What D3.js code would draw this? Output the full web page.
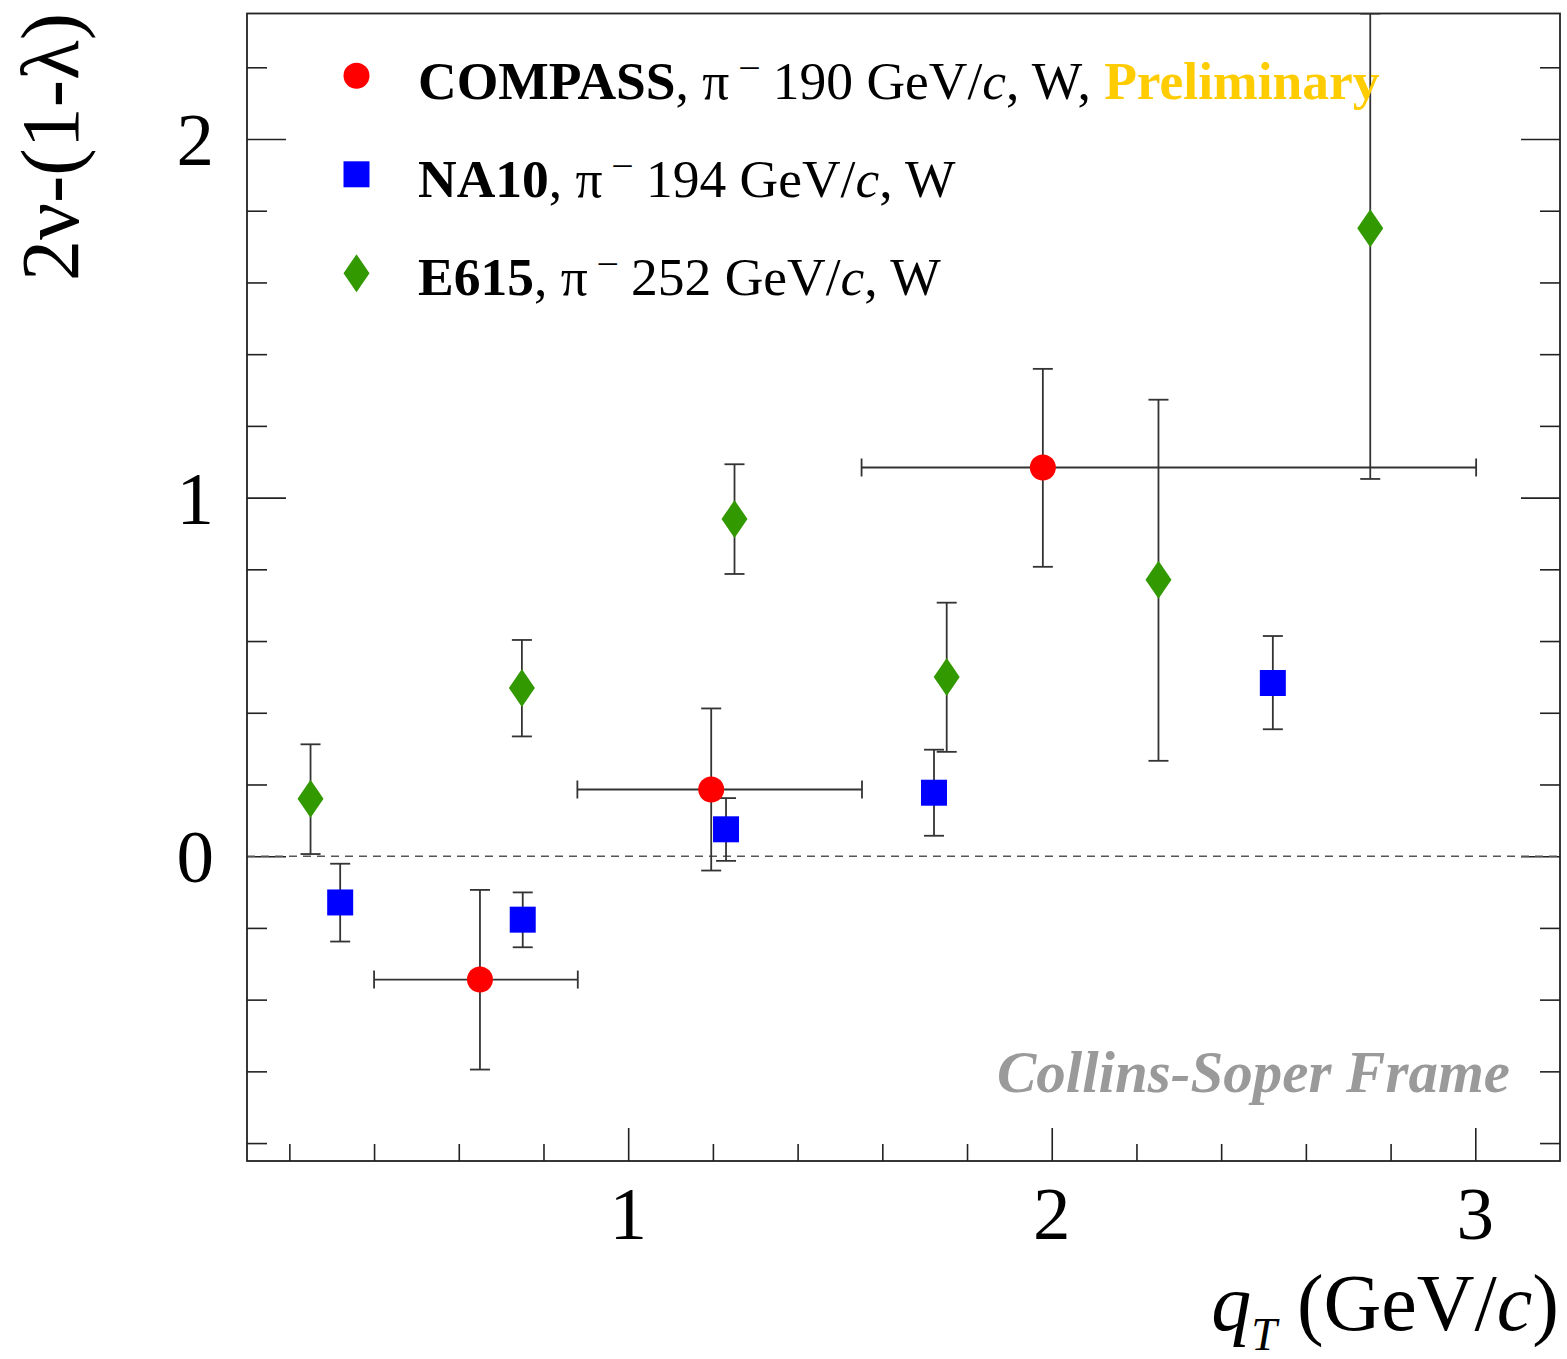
<!DOCTYPE html>
<html>
<head>
<meta charset="utf-8">
<script src="https://cdn.jsdelivr.net/npm/d3@7"></script>
<style>
  html, body { margin: 0; padding: 0; background: #fff; }
  svg { display: block; }
  text { font-family: "Liberation Serif", "Times New Roman", serif; }
</style>
</head>
<body>
<svg id="chart" width="1567" height="1359"></svg>
<script>
// ---------- data ----------
const seriesNames = ["COMPASS", "NA10", "E615"];
const seriesEnergies = ["190", "194", "252"];

// COMPASS (with x bin ranges)
const compassX    = [0.650, 1.196, 1.979];
const compassXlo  = [0.400, 0.880, 1.551];
const compassXhi  = [0.881, 1.552, 3.002];
const compassY    = [-0.344, 0.186, 1.084];
const compassYlo  = [-0.595, -0.040, 0.807];
const compassYhi  = [-0.094, 0.412, 1.359];

// NA10
const na10X   = [0.320, 0.751, 1.231, 1.722, 2.522];
const na10Y   = [-0.129, -0.177, 0.075, 0.177, 0.483];
const na10Ylo = [-0.238, -0.254, -0.013, 0.057, 0.354];
const na10Yhi = [-0.021, -0.101, 0.162, 0.297, 0.614];

// E615
const e615X   = [0.250, 0.749, 1.251, 1.752, 2.252, 2.752];
const e615Y   = [0.160, 0.469, 0.940, 0.500, 0.771, 1.751];
const e615Ylo = [0.006, 0.334, 0.787, 0.291, 0.266, 1.052];
const e615Yhi = [0.312, 0.603, 1.093, 0.707, 1.273, 2.450];

const xMajorTicks = [1, 2, 3];
const xTickLabels = ["1", "2", "3"];
const yMajorTicks = [0, 1, 2];
const yTickLabels = ["0", "1", "2"];
const xDomain = [0.1, 3.2];
const yDomain = [-0.85, 2.35];

// ---------- layout ----------
const L = 247, R = 1560, T = 13.5, B = 1161;
const svg = d3.select("#chart");
const x = d3.scaleLinear().domain(xDomain).range([L, R]);
const y = d3.scaleLinear().domain(yDomain).range([B, T]);

const colors = { COMPASS: "#ff0000", NA10: "#0000ff", E615: "#339900" };
const errColor = "#333333";

// clip
svg.append("defs").append("clipPath").attr("id", "plotclip")
  .append("rect").attr("x", L).attr("y", T).attr("width", R - L).attr("height", B - T);

// ---------- axes ----------
const minorX = d3.range(0.2, 3.21, 0.2).map(v => +v.toFixed(2)).filter(v => v > xDomain[0] && v < xDomain[1]);
const minorY = d3.range(-0.8, 2.31, 0.2).map(v => +v.toFixed(2));

const xAxisMinor = d3.axisTop(x).tickValues(minorX.filter(v => !xMajorTicks.includes(v))).tickSize(17).tickFormat("");
const xAxisMajor = d3.axisTop(x).tickValues(xMajorTicks).tickSize(33).tickFormat("");
const yLeftMinor = d3.axisRight(y).tickValues(minorY.filter(v => !yMajorTicks.includes(v))).tickSize(20).tickFormat("");
const yLeftMajor = d3.axisRight(y).tickValues(yMajorTicks).tickSize(39).tickFormat("");
const yRightMinor = d3.axisLeft(y).tickValues(minorY.filter(v => !yMajorTicks.includes(v))).tickSize(20).tickFormat("");
const yRightMajor = d3.axisLeft(y).tickValues(yMajorTicks).tickSize(39).tickFormat("");

function styleAxis(g) {
  g.select(".domain").remove();
  g.selectAll(".tick line").attr("stroke", "#222").attr("stroke-width", 1.6);
}
svg.append("g").attr("transform", `translate(0,${B})`).call(xAxisMinor).call(styleAxis);
svg.append("g").attr("transform", `translate(0,${B})`).call(xAxisMajor).call(styleAxis);
svg.append("g").attr("transform", `translate(${L},0)`).call(yLeftMinor).call(styleAxis);
svg.append("g").attr("transform", `translate(${L},0)`).call(yLeftMajor).call(styleAxis);
svg.append("g").attr("transform", `translate(${R},0)`).call(yRightMinor).call(styleAxis);
svg.append("g").attr("transform", `translate(${R},0)`).call(yRightMajor).call(styleAxis);

// tick labels
svg.append("g").selectAll("text").data(xMajorTicks).join("text")
  .attr("x", d => x(d)).attr("y", 1239)
  .attr("text-anchor", "middle").attr("font-size", 75).attr("fill", "#000")
  .text((d, i) => xTickLabels[i]);
svg.append("g").selectAll("text").data(yMajorTicks).join("text")
  .attr("x", 214).attr("y", d => y(d) + 26)
  .attr("text-anchor", "end").attr("font-size", 75).attr("fill", "#000")
  .text((d, i) => yTickLabels[i]);

// zero dashed line
svg.append("line")
  .attr("x1", L).attr("x2", R).attr("y1", y(0)).attr("y2", y(0))
  .attr("stroke", "#555").attr("stroke-width", 1.4).attr("stroke-dasharray", "8,6");

// frame
svg.append("rect").attr("x", L).attr("y", T).attr("width", R - L).attr("height", B - T)
  .attr("fill", "none").attr("stroke", "#222").attr("stroke-width", 1.8);

// ---------- data drawing ----------
const plot = svg.append("g").attr("clip-path", "url(#plotclip)");
const capW = 10, capH = 9;

function drawYErr(g, xs, ys, lo, hi) {
  xs.forEach((xv, i) => {
    const px = x(xv);
    const yTop = Math.max(y(hi[i]), T), yBot = Math.min(y(lo[i]), B);
    g.append("line").attr("x1", px).attr("x2", px).attr("y1", yTop).attr("y2", yBot)
      .attr("stroke", errColor).attr("stroke-width", 1.8);
    g.append("line").attr("x1", px - capW).attr("x2", px + capW).attr("y1", yTop).attr("y2", yTop)
      .attr("stroke", errColor).attr("stroke-width", 1.8);
    g.append("line").attr("x1", px - capW).attr("x2", px + capW).attr("y1", yBot).attr("y2", yBot)
      .attr("stroke", errColor).attr("stroke-width", 1.8);
  });
}
function drawXErr(g, ys, lo, hi) {
  ys.forEach((yv, i) => {
    const py = y(yv), x1 = x(lo[i]), x2 = x(hi[i]);
    g.append("line").attr("x1", x1).attr("x2", x2).attr("y1", py).attr("y2", py)
      .attr("stroke", errColor).attr("stroke-width", 1.8);
    g.append("line").attr("x1", x1).attr("x2", x1).attr("y1", py - capH).attr("y2", py + capH)
      .attr("stroke", errColor).attr("stroke-width", 1.8);
    g.append("line").attr("x1", x2).attr("x2", x2).attr("y1", py - capH).attr("y2", py + capH)
      .attr("stroke", errColor).attr("stroke-width", 1.8);
  });
}

const markerPath = {
  circle: "M13,0A13,13 0 1,1 -13,0A13,13 0 1,1 13,0Z",
  square: "M-13,-13H13V13H-13Z",
  diamond: "M0,-19L13,0L0,19L-13,0Z"
};

function drawMarkers(g, xs, ys, shape, color) {
  g.selectAll(null).data(xs).join("path")
    .attr("transform", (d, i) => `translate(${x(d)},${y(ys[i])})`)
    .attr("d", markerPath[shape]).attr("fill", color);
}

drawYErr(plot, e615X, e615Y, e615Ylo, e615Yhi);
drawYErr(plot, na10X, na10Y, na10Ylo, na10Yhi);
drawYErr(plot, compassX, compassY, compassYlo, compassYhi);
drawXErr(plot, compassY, compassXlo, compassXhi);

drawMarkers(plot, e615X, e615Y, "diamond", colors.E615);
drawMarkers(plot, na10X, na10Y, "square", colors.NA10);
drawMarkers(plot, compassX, compassY, "circle", colors.COMPASS);

// ---------- legend ----------
const legendShapes = ["circle", "square", "diamond"];
const legendY = [75.7, 174.3, 273.3];
const legendBase = [98.5, 197, 294.5];
const lg = svg.append("g");
seriesNames.forEach((name, i) => {
  lg.append("path").attr("transform", `translate(356.5,${legendY[i]})`)
    .attr("d", markerPath[legendShapes[i]]).attr("fill", colors[name]);
  const t = lg.append("text").attr("x", 418).attr("y", legendBase[i]).attr("font-size", 53.5).attr("fill", "#000");
  t.append("tspan").attr("font-weight", "bold").text(name);
  t.append("tspan").text(", \u03c0");
  t.append("tspan").attr("font-size", 36).attr("dy", -22).attr("dx", 2).text(" \u2013");
  t.append("tspan").attr("dy", 22).attr("dx", 1).text(" " + seriesEnergies[i] + " GeV/");
  t.append("tspan").attr("font-style", "italic").text("c");
  t.append("tspan").text(", W");
  if (name === "COMPASS") {
    t.append("tspan").text(", ");
    t.append("tspan").attr("font-weight", "bold").attr("fill", "#ffcc00").text("Preliminary");
  }
});

// ---------- axis titles ----------
const xt = svg.append("text").attr("x", 1559).attr("y", 1330).attr("text-anchor", "end")
  .attr("font-size", 80).attr("fill", "#000");
xt.append("tspan").attr("font-style", "italic").text("q");
xt.append("tspan").attr("font-style", "italic").attr("font-size", 46).attr("dy", 20).text("T");
xt.append("tspan").attr("dy", -20).text(" (GeV/");
xt.append("tspan").attr("font-style", "italic").text("c");
xt.append("tspan").text(")");

svg.append("text").attr("transform", "translate(78,13) rotate(-90)")
  .attr("text-anchor", "end").attr("font-size", 82).attr("fill", "#000")
  .text("2\u03bd-(1-\u03bb)");

// frame label
svg.append("text").attr("x", 1510).attr("y", 1092).attr("text-anchor", "end")
  .attr("font-size", 59).attr("font-weight", "bold").attr("font-style", "italic")
  .attr("fill", "#9a9a9a").text("Collins-Soper Frame");
</script>
</body>
</html>
